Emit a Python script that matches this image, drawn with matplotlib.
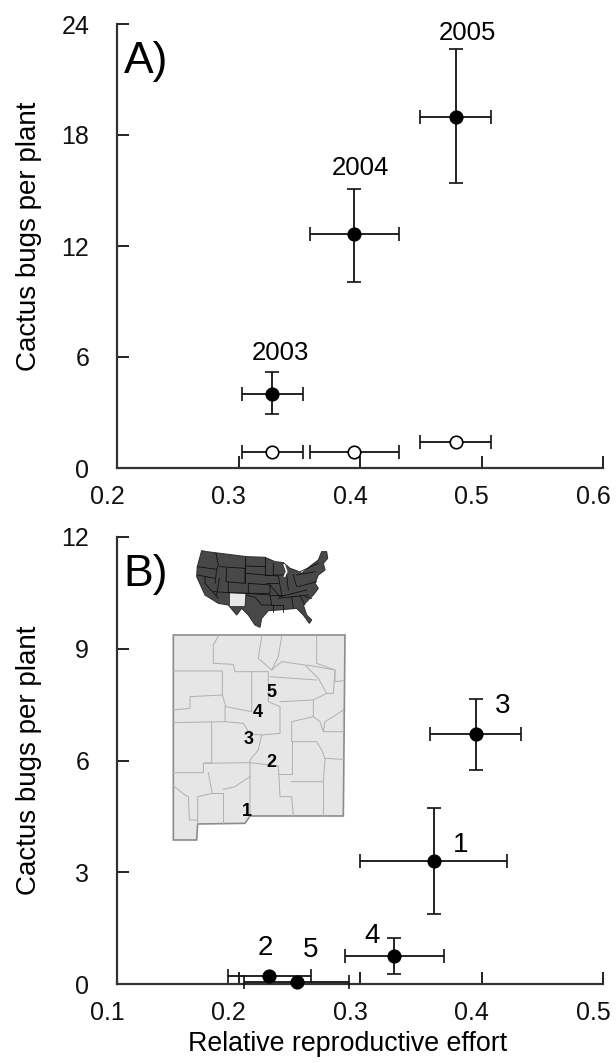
import matplotlib
matplotlib.use("Agg")
import matplotlib.pyplot as plt
from matplotlib.patches import Polygon
from matplotlib.transforms import ScaledTranslation

plt.rcParams['font.family'] = ['Liberation Sans', 'DejaVu Sans']

# panel A
x_a = [0.3275, 0.395, 0.4793]
x_a_low = [0.303, 0.359, 0.449]
x_a_high = [0.353, 0.4325, 0.508]
y_a_on = [4.0, 12.65, 19.0]
y_a_on_low = [2.9, 10.05, 15.4]
y_a_on_high = [5.2, 15.1, 22.65]
y_a_off = [0.87, 0.87, 1.4]
years = ['2003', '2004', '2005']
year_x = [0.3345, 0.4, 0.4885]
year_y = [6.2, 16.2, 23.5]

# panel B
x_b = [0.361, 0.225, 0.3955, 0.328, 0.248]
x_b_low = [0.3, 0.191, 0.358, 0.2877, 0.2045]
x_b_high = [0.421, 0.2595, 0.4325, 0.369, 0.291]
y_b = [3.3, 0.21, 6.71, 0.75, 0.05]
y_b_low = [1.88, 0.21, 5.75, 0.27, 0.05]
y_b_high = [4.72, 0.21, 7.65, 1.23, 0.05]
site_names = ['1', '2', '3', '4', '5']
site_label_x = [0.3765, 0.216, 0.411, 0.304, 0.253]
site_label_y = [3.54, 0.78, 7.27, 1.1, 0.72]

# new mexico map, pixels of the 220x320 crop x3
nm_outline = [(70, 315), (585, 315), (580, 858), (300, 858), (285, 880), (143, 882), (140, 930), (70, 930)]
county_lines = [
    [(70, 423), (217, 423), (217, 495), (228, 530), (305, 545), (305, 425), (355, 425), (355, 515), (390, 530), (390, 610), (335, 615), (325, 660), (300, 690), (300, 858)],
    [(205, 318), (190, 345), (190, 400), (250, 403), (255, 425), (305, 425)],
    [(335, 318), (325, 385), (365, 420), (395, 395), (465, 405), (505, 445), (530, 490), (550, 490), (555, 420), (470, 405)],
    [(395, 318), (385, 380), (365, 420)],
    [(500, 318), (500, 400), (555, 420), (555, 455), (580, 452)],
    [(360, 440), (500, 450)],
    [(390, 515), (490, 510), (490, 560), (425, 575), (425, 635), (500, 635), (515, 660), (525, 685), (580, 688)],
    [(490, 510), (530, 490)],
    [(490, 560), (510, 575), (520, 605), (580, 605), (580, 540), (550, 560), (525, 575), (520, 605)],
    [(70, 540), (120, 535), (120, 500), (217, 495)],
    [(70, 578), (225, 575), (225, 530)],
    [(185, 575), (185, 698), (160, 700), (160, 728), (70, 728)],
    [(225, 575), (280, 580), (300, 612), (335, 615)],
    [(160, 700), (300, 698), (385, 708), (390, 800), (425, 800), (430, 858)],
    [(385, 733), (425, 733), (425, 635)],
    [(425, 755), (520, 755), (525, 685)],
    [(520, 755), (520, 858)],
    [(175, 728), (187, 790), (143, 800), (143, 882)],
    [(187, 790), (220, 790), (220, 880)],
    [(220, 778), (255, 770), (300, 740)],
    [(70, 768), (105, 795), (115, 800), (118, 870), (143, 870)],
]
site_map_x = [292, 365, 295, 322, 365]
site_map_y = [845, 698, 630, 547, 488]

# us map, pixels of the 145x90 crop x3
us_outline = [
    (35, 32), (50, 35), (90, 40), (170, 50), (225, 52), (255, 65), (280, 68), (300, 85), (320, 92), (335, 100),
    (365, 75), (385, 60), (395, 35), (410, 35), (413, 55), (400, 70), (405, 90), (385, 105), (375, 130), (385, 145),
    (370, 165), (340, 195), (350, 225), (365, 240), (358, 250), (340, 225), (320, 205), (265, 210), (235, 212),
    (215, 235), (210, 262), (195, 255), (175, 225), (155, 205), (140, 225), (115, 195), (85, 190), (45, 165),
    (20, 110), (22, 80),
]
nm_on_us = [(118, 158), (168, 160), (165, 200), (118, 200)]
state_lines = [
    [(22, 80), (80, 88)], [(78, 40), (85, 75), (80, 88), (75, 130)], [(22, 105), (75, 115)],
    [(45, 110), (45, 130), (85, 175)], [(88, 115), (80, 165)], [(70, 155), (118, 158)],
    [(90, 80), (165, 85)], [(110, 85), (108, 125), (165, 130), (165, 85)],
    [(165, 52), (165, 130)], [(168, 78), (225, 80)], [(168, 100), (225, 105)],
    [(115, 125), (115, 158), (175, 160), (175, 130)], [(175, 130), (240, 135), (240, 160), (175, 160)],
    [(170, 160), (240, 165), (245, 195)], [(168, 165), (195, 172), (215, 195), (245, 195)],
    [(225, 52), (225, 105), (250, 105)], [(225, 105), (265, 108)], [(228, 130), (265, 130)],
    [(240, 135), (270, 170)], [(240, 165), (285, 165)], [(245, 195), (280, 195)], [(250, 195), (250, 215)],
    [(250, 70), (250, 105), (290, 105), (280, 75)], [(265, 108), (275, 165)], [(290, 105), (295, 150)],
    [(310, 105), (320, 140)], [(270, 170), (350, 150)], [(265, 175), (355, 165)],
    [(280, 195), (280, 215)], [(305, 170), (310, 205)], [(330, 168), (345, 195)],
    [(325, 140), (380, 125)], [(320, 105), (375, 95)], [(330, 95), (385, 70)], [(345, 170), (365, 175)],
]
water_line = [(283, 75), (290, 95), (284, 108)]

fig = plt.figure(figsize=(6.16, 10.63), dpi=100)
W, H = 616.0, 1063.0


def make_axes(left, right, top, bottom):
    ax = fig.add_axes([left / W, 1 - bottom / H, (right - left) / W, (bottom - top) / H])
    ax.spines['top'].set_visible(False)
    ax.spines['right'].set_visible(False)
    ax.spines['left'].set_linewidth(1.6)
    ax.spines['bottom'].set_linewidth(1.6)
    ax.spines['left'].set_color('#333333')
    ax.spines['bottom'].set_color('#333333')
    ax.tick_params(direction='in', length=8.5, width=1.3, labelsize=18, colors='#111111')
    ax.tick_params(axis='x', pad=12)
    ax.tick_params(axis='y', pad=20)
    ax.patch.set_alpha(0)
    return ax


def shift_xticklabels(ax):
    # labels sit a little left of their ticks
    offset = ScaledTranslation(-10 / 100, 0, fig.dpi_scale_trans)
    for label in ax.get_xticklabels():
        label.set_transform(label.get_transform() + offset)


def draw_points(ax, xs, ys, xlow, xhigh, ylow, yhigh, face):
    for i in range(len(xs)):
        ax.errorbar([xs[i]], [ys[i]],
                    xerr=[[xs[i] - xlow[i]], [xhigh[i] - xs[i]]],
                    yerr=[[ys[i] - ylow[i]], [yhigh[i] - ys[i]]],
                    fmt='o', ms=9, mfc=face, mec='black', mew=1.2, ecolor='#111111',
                    elinewidth=1.3, capsize=5, capthick=1.3, clip_on=False, zorder=4)


ax_a = make_axes(117, 603, 24, 468)
ax_a.set_xlim(0.2, 0.6)
ax_a.set_ylim(0, 24)
ax_a.set_xticks([0.2, 0.3, 0.4, 0.5, 0.6])
ax_a.set_yticks([0, 6, 12, 18, 24])
shift_xticklabels(ax_a)
ax_a.set_ylabel('Cactus bugs per plant', fontsize=20, va='center')
ax_a.yaxis.set_label_coords(-0.181, 0.522)
draw_points(ax_a, x_a, y_a_on, x_a_low, x_a_high, y_a_on_low, y_a_on_high, 'black')
draw_points(ax_a, x_a, y_a_off, x_a_low, x_a_high, y_a_off, y_a_off, 'white')
for i in range(3):
    ax_a.text(year_x[i], year_y[i], years[i], fontsize=18.5, ha='center', va='center')
ax_a.text(0.2055, 22.0, 'A)', fontsize=32, ha='left', va='center')

ax_b = make_axes(117, 603, 537, 984)
ax_b.set_xlim(0.1, 0.5)
ax_b.set_ylim(0, 12)
ax_b.set_xticks([0.1, 0.2, 0.3, 0.4, 0.5])
ax_b.set_yticks([0, 3, 6, 9, 12])
shift_xticklabels(ax_b)
ax_b.set_ylabel('Cactus bugs per plant', fontsize=20, va='center')
ax_b.yaxis.set_label_coords(-0.181, 0.50)
ax_b.set_xlabel('Relative reproductive effort', fontsize=19.3, va='center')
ax_b.xaxis.set_label_coords(0.475, -0.134)
draw_points(ax_b, x_b, y_b, x_b_low, x_b_high, y_b_low, y_b_high, 'black')
for i in range(5):
    ax_b.text(site_label_x[i], site_label_y[i], site_names[i], fontsize=20, ha='left', va='baseline')
ax_b.text(0.1055, 11.0, 'B)', fontsize=32, ha='left', va='center')

# inset maps
ax_us = fig.add_axes([190 / W, 1 - 630 / H, 145 / W, 90 / H])
ax_us.set_xlim(0, 435)
ax_us.set_ylim(270, 0)
ax_us.axis('off')
ax_us.add_patch(Polygon(us_outline, closed=True, fc='#484848', ec='#333333', lw=0.8))
for line in state_lines:
    ax_us.plot([p[0] for p in line], [p[1] for p in line], color='#111111', lw=0.6)
ax_us.plot([p[0] for p in water_line], [p[1] for p in water_line], color='white', lw=1.3)
ax_us.add_patch(Polygon(nm_on_us, closed=True, fc='#e8e8e8', ec='#222222', lw=0.6))

ax_map = fig.add_axes([150 / W, 1 - 850 / H, 220 / W, 320 / H])
ax_map.set_xlim(0, 660)
ax_map.set_ylim(960, 0)
ax_map.axis('off')
ax_map.add_patch(Polygon(nm_outline, closed=True, fc='#e6e6e6', ec='#8c8c8c', lw=1.2))
for line in county_lines:
    ax_map.plot([p[0] for p in line], [p[1] for p in line], color='#b0b0b0', lw=0.7)
for i in range(5):
    ax_map.text(site_map_x[i], site_map_y[i], site_names[i], fontsize=13, fontweight='bold',
                ha='center', va='center')

fig.savefig('out.png', dpi=100)
